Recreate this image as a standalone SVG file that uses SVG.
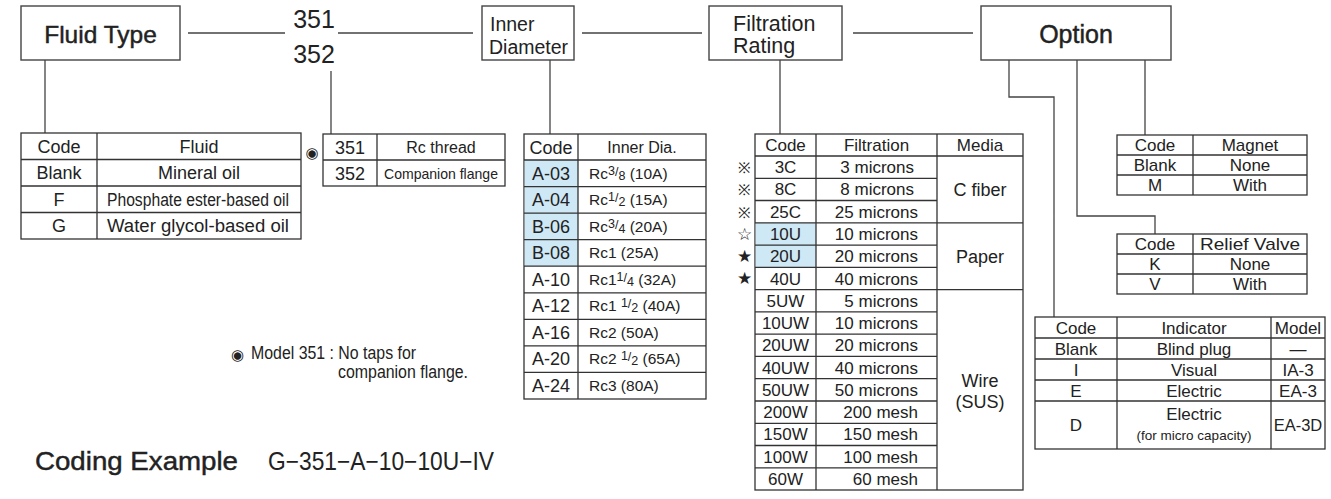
<svg xmlns="http://www.w3.org/2000/svg" width="1331" height="499" viewBox="0 0 1331 499">
<defs>
<style>
text{font-family:"Liberation Sans",Arial,sans-serif;fill:#222}
.m{text-anchor:middle}
.e{text-anchor:end}
.hd{stroke:#222;stroke-width:0.45}
.box{fill:#fff;stroke:#444;stroke-width:1.4}
.tb{fill:#fff;stroke:#333;stroke-width:1.3}
.gl{fill:none;stroke:#333;stroke-width:1.3}
.cn{fill:none;stroke:#444;stroke-width:1.3}
.hl{fill:#cfe8f5}
.t18{font-size:18px}
.t17{font-size:17px}
.t16{font-size:16px}
.t15{font-size:15.5px}
.sym{font-family:"DejaVu Sans","Noto Sans CJK JP",sans-serif;font-size:15px}
</style>
</defs>
<rect width="1331" height="499" fill="#fff"/>

<g id="connectors">
<path class="cn" d="M188 33H285M338 33H473M582 33H702M853 33H973"/>
<path class="cn" d="M45 60V133M331 71V134M550 60V134M780 60V134"/>
<path class="cn" d="M1009 60V97H1054V317M1077 60V216H1155V234M1145 60V135"/>
</g>

<g id="fluid-type">
<rect class="box" x="21" y="6" width="159" height="54"/>
<text class="m hd" x="100.5" y="43" font-size="24.5">Fluid Type</text>
</g>

<g id="model-number">
<text class="m" x="314" y="28" font-size="25">351</text>
<text class="m" x="314" y="63" font-size="25">352</text>
</g>

<g id="inner-diameter">
<rect class="box" x="482" y="6" width="92" height="54"/>
<text x="490" y="31" font-size="19.5">Inner</text>
<text x="489" y="54" font-size="19.5">Diameter</text>
</g>

<g id="filtration-rating">
<rect class="box" x="709" y="6" width="133" height="54"/>
<text x="733" y="31" font-size="21.5">Filtration</text>
<text x="733" y="53" font-size="21.5">Rating</text>
</g>

<g id="option">
<rect class="box" x="981" y="6" width="190" height="54"/>
<text class="m hd" x="1076" y="43" font-size="25">Option</text>
</g>

<g id="fluid-table">
<rect class="tb" x="21" y="133" width="280" height="106"/>
<path class="gl" d="M97 133V239M21 159.5H301M21 186H301M21 212.5H301"/>
<g class="t18">
<text class="m" x="59" y="152.5">Code</text>
<text class="m" x="199" y="152.5">Fluid</text>
<text class="m" x="59" y="179">Blank</text>
<text class="m" x="199" y="179">Mineral oil</text>
<text class="m" x="59" y="205.5">F</text>
<text class="m" x="198" y="205.5" textLength="182" lengthAdjust="spacingAndGlyphs">Phosphate ester-based oil</text>
<text class="m" x="59" y="232">G</text>
<text class="m" x="198" y="232" textLength="182" lengthAdjust="spacingAndGlyphs">Water glycol-based oil</text>
</g>
</g>

<g id="model-table">
<text class="sym m" x="312" y="157.5" font-size="25">◉</text>
<rect class="tb" x="323" y="134" width="182" height="52"/>
<path class="gl" d="M377 134V186M323 160H505"/>
<text class="m t18" x="350" y="153.5">351</text>
<text class="m t18" x="350" y="179.5">352</text>
<text class="m" x="441" y="153" font-size="16">Rc thread</text>
<text class="m" x="441" y="179" font-size="15" textLength="114" lengthAdjust="spacingAndGlyphs">Companion flange</text>
</g>

<g id="inner-dia-table">
<rect class="tb" x="524" y="134" width="182" height="265"/>
<rect class="hl" x="524.7" y="160" width="53.3" height="106.2"/>
<path class="gl" d="M578 134V399M524 160H706M524 186.6H706M524 213.1H706M524 239.7H706M524 266.2H706M524 292.8H706M524 319.3H706M524 345.9H706M524 372.4H706"/>
<g class="t18">
<text class="m" x="551" y="153.5">Code</text>
<text class="m" x="551" y="179.6">A-03</text>
<text class="m" x="551" y="206.1">A-04</text>
<text class="m" x="551" y="232.7">B-06</text>
<text class="m" x="551" y="259.2">B-08</text>
<text class="m" x="551" y="285.8">A-10</text>
<text class="m" x="551" y="312.3">A-12</text>
<text class="m" x="551" y="338.9">A-16</text>
<text class="m" x="551" y="365.4">A-20</text>
<text class="m" x="551" y="392">A-24</text>
</g>
<text class="m" x="642" y="153" font-size="16">Inner Dia.</text>
<g class="t15">
<text x="589" y="178.6">Rc<tspan font-size="12.5" dy="-4">3</tspan><tspan font-size="12.5" dy="1">/</tspan><tspan font-size="12.5" dy="4">8</tspan><tspan dy="-1">  (10A)</tspan></text>
<text x="589" y="205.1">Rc<tspan font-size="12.5" dy="-4">1</tspan><tspan font-size="12.5" dy="1">/</tspan><tspan font-size="12.5" dy="4">2</tspan><tspan dy="-1">  (15A)</tspan></text>
<text x="589" y="231.7">Rc<tspan font-size="12.5" dy="-4">3</tspan><tspan font-size="12.5" dy="1">/</tspan><tspan font-size="12.5" dy="4">4</tspan><tspan dy="-1">  (20A)</tspan></text>
<text x="589" y="258.2">Rc1   (25A)</text>
<text x="589" y="284.8">Rc1<tspan font-size="12.5" dy="-4">1</tspan><tspan font-size="12.5" dy="1">/</tspan><tspan font-size="12.5" dy="4">4</tspan><tspan dy="-1">  (32A)</tspan></text>
<text x="589" y="311.3">Rc1 <tspan font-size="12.5" dy="-4">1</tspan><tspan font-size="12.5" dy="1">/</tspan><tspan font-size="12.5" dy="4">2</tspan><tspan dy="-1">  (40A)</tspan></text>
<text x="589" y="337.9">Rc2   (50A)</text>
<text x="589" y="364.4">Rc2 <tspan font-size="12.5" dy="-4">1</tspan><tspan font-size="12.5" dy="1">/</tspan><tspan font-size="12.5" dy="4">2</tspan><tspan dy="-1">  (65A)</tspan></text>
<text x="589" y="391">Rc3   (80A)</text>
</g>
</g>

<g id="filtration-table">
<rect class="tb" x="755" y="134" width="268" height="356"/>
<rect class="hl" x="755.7" y="222.8" width="60.3" height="44.6"/>
<path class="gl" d="M816 134V490M937 134V490M755 156H1023M755 178.3H937M755 200.5H937M755 222.8H1023M755 245.1H937M755 267.4H937M755 289.6H1023M755 311.9H937M755 334.2H937M755 356.4H937M755 378.7H937M755 401H937M755 423.3H937M755 445.5H937M755 467.8H937"/>
<g class="t17">
<text class="m" x="785.5" y="151">Code</text>
<text class="m" x="876.5" y="151">Filtration</text>
<text class="m" x="980" y="151">Media</text>
<text class="m" x="785.5" y="173.2">3C</text>
<text class="m" x="785.5" y="195.4">8C</text>
<text class="m" x="785.5" y="217.7">25C</text>
<text class="m" x="785.5" y="240">10U</text>
<text class="m" x="785.5" y="262.3">20U</text>
<text class="m" x="785.5" y="284.5">40U</text>
<text class="m" x="785.5" y="306.8">5UW</text>
<text class="m" x="785.5" y="329.1">10UW</text>
<text class="m" x="785.5" y="351.3">20UW</text>
<text class="m" x="785.5" y="373.6">40UW</text>
<text class="m" x="785.5" y="395.9">50UW</text>
<text class="m" x="785.5" y="418.2">200W</text>
<text class="m" x="785.5" y="440.4">150W</text>
<text class="m" x="785.5" y="462.7">100W</text>
<text class="m" x="785.5" y="485">60W</text>
<text class="e" x="914" y="173.2">3 microns</text>
<text class="e" x="914" y="195.4">8 microns</text>
<text class="e" x="918" y="217.7">25 microns</text>
<text class="e" x="918" y="240">10 microns</text>
<text class="e" x="918" y="262.3">20 microns</text>
<text class="e" x="918" y="284.5">40 microns</text>
<text class="e" x="918" y="306.8">5 microns</text>
<text class="e" x="918" y="329.1">10 microns</text>
<text class="e" x="918" y="351.3">20 microns</text>
<text class="e" x="918" y="373.6">40 microns</text>
<text class="e" x="918" y="395.9">50 microns</text>
<text class="e" x="918" y="418.2">200 mesh</text>
<text class="e" x="918" y="440.4">150 mesh</text>
<text class="e" x="918" y="462.7">100 mesh</text>
<text class="e" x="918" y="485">60 mesh</text>
</g>
<g class="t18">
<text class="m" x="980" y="196">C fiber</text>
<text class="m" x="980" y="263">Paper</text>
<text class="m" x="980" y="387">Wire</text>
<text class="m" x="980" y="408">(SUS)</text>
</g>
<g class="sym">
<text class="m" x="744" y="173" font-family="Noto Sans CJK JP, sans-serif">※</text>
<text class="m" x="744" y="195.2" font-family="Noto Sans CJK JP, sans-serif">※</text>
<text class="m" x="744" y="217.5" font-family="Noto Sans CJK JP, sans-serif">※</text>
<text class="m" x="744" y="239.8" font-size="17">☆</text>
<text class="m" x="744" y="262.1" font-size="17">★</text>
<text class="m" x="744" y="284.3" font-size="17">★</text>
</g>
</g>

<g id="magnet-table">
<rect class="tb" x="1117" y="135" width="190" height="60"/>
<path class="gl" d="M1193 135V195M1117 155H1307M1117 175H1307"/>
<g class="t17">
<text class="m" x="1155" y="151">Code</text>
<text class="m" x="1250" y="151">Magnet</text>
<text class="m" x="1155" y="171">Blank</text>
<text class="m" x="1250" y="171">None</text>
<text class="m" x="1155" y="191">M</text>
<text class="m" x="1250" y="191">With</text>
</g>
</g>

<g id="relief-table">
<rect class="tb" x="1117" y="234" width="190" height="60"/>
<path class="gl" d="M1193 234V294M1117 254H1307M1117 274H1307"/>
<g class="t17">
<text class="m" x="1155" y="250">Code</text>
<text class="m" x="1250" y="250" textLength="100" lengthAdjust="spacingAndGlyphs">Relief Valve</text>
<text class="m" x="1155" y="270">K</text>
<text class="m" x="1250" y="270">None</text>
<text class="m" x="1155" y="290">V</text>
<text class="m" x="1250" y="290">With</text>
</g>
</g>

<g id="indicator-table">
<rect class="tb" x="1035" y="317" width="290" height="132"/>
<path class="gl" d="M1117 317V449M1271 317V449M1035 338H1325M1035 359H1325M1035 380H1325M1035 401H1325"/>
<g class="t17">
<text class="m" x="1076" y="333.5">Code</text>
<text class="m" x="1194" y="333.5">Indicator</text>
<text class="m" x="1298" y="333.5">Model</text>
<text class="m" x="1076" y="354.5">Blank</text>
<text class="m" x="1194" y="354.5">Blind plug</text>
<text class="m" x="1298" y="354.5">—</text>
<text class="m" x="1076" y="375.5">I</text>
<text class="m" x="1194" y="375.5">Visual</text>
<text class="m" x="1298" y="375.5">IA-3</text>
<text class="m" x="1076" y="396.5">E</text>
<text class="m" x="1194" y="396.5">Electric</text>
<text class="m" x="1298" y="396.5">EA-3</text>
<text class="m" x="1076" y="431">D</text>
<text class="m" x="1194" y="420">Electric</text>
<text class="m" x="1298" y="431" font-size="16.5">EA-3D</text>
</g>
<text class="m" x="1194" y="440" font-size="13.5">(for micro capacity)</text>
</g>

<g id="note">
<text class="sym" x="231" y="360" font-size="21">◉</text>
<text x="251" y="359" font-size="17.5" textLength="165" lengthAdjust="spacingAndGlyphs">Model 351 : No taps for</text>
<text x="338" y="378" font-size="17.5" textLength="130" lengthAdjust="spacingAndGlyphs">companion flange.</text>
</g>

<g id="coding-example">
<text class="hd" x="35" y="470" font-size="26" textLength="203" lengthAdjust="spacingAndGlyphs">Coding Example</text>
<text x="268" y="470" font-size="25" textLength="226" lengthAdjust="spacingAndGlyphs">G−351−A−10−10U−IV</text>
</g>
</svg>
